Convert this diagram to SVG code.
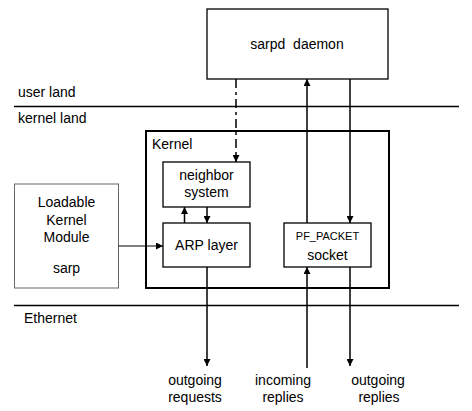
<svg xmlns="http://www.w3.org/2000/svg" width="472" height="411" viewBox="0 0 472 411">
<style>
text{font-family:"Liberation Sans",Arial,sans-serif;font-size:14px;fill:#000}
.c{text-anchor:middle}
.box{fill:#fff;stroke:#000;stroke-width:1.3}
.ln{stroke:#000;stroke-width:1.5;fill:none}
</style>
<defs>
<marker id="ah" viewBox="0 0 10 10" refX="10" refY="5" markerWidth="9" markerHeight="7" markerUnits="userSpaceOnUse" orient="auto">
<path d="M0,0 L10,5 L0,10 z" fill="#000"/>
</marker>
</defs>
<rect width="472" height="411" fill="#fff"/>
<g id="layers">
<line x1="14" y1="106.5" x2="459" y2="106.5" stroke="#000" stroke-width="1.5"/>
<line x1="14" y1="305.5" x2="459" y2="305.5" stroke="#000" stroke-width="1.5"/>
<text x="18" y="97">user land</text>
<text x="18" y="123">kernel land</text>
<text x="24" y="323">Ethernet</text>
</g>
<g id="kernel">
<rect x="146" y="131" width="243" height="157" fill="none" stroke="#000" stroke-width="2"/>
<text x="152" y="149">Kernel</text>
</g>
<g id="sarpd">
<rect class="box" x="207" y="9" width="181" height="70"/>
<text class="c" x="297" y="49" xml:space="preserve">sarpd  daemon</text>
</g>
<g id="neighbor">
<rect class="box" x="163" y="162" width="87" height="45"/>
<text class="c" x="206.5" y="180">neighbor</text>
<text class="c" x="206.5" y="197">system</text>
</g>
<g id="arp">
<rect class="box" x="163" y="223" width="87" height="44"/>
<text class="c" x="206.5" y="250">ARP layer</text>
</g>
<g id="pfpacket">
<rect class="box" x="284" y="223" width="87" height="44"/>
<text class="c" x="327.5" y="240" style="font-size:11px">PF_PACKET</text>
<text class="c" x="327.5" y="260">socket</text>
</g>
<g id="lkm">
<rect x="14.5" y="184" width="104" height="104" fill="#fff" stroke="#666" stroke-width="1"/>
<text class="c" x="66.5" y="207">Loadable</text>
<text class="c" x="66.5" y="224.5">Kernel</text>
<text class="c" x="66.5" y="242">Module</text>
<text class="c" x="66.5" y="273">sarp</text>
</g>
<g id="connectors">
<line class="ln" x1="236" y1="79" x2="236" y2="162" stroke-dasharray="9 4 3 4" marker-end="url(#ah)"/>
<line class="ln" x1="307" y1="223" x2="307" y2="79" marker-end="url(#ah)"/>
<line class="ln" x1="350" y1="79" x2="350" y2="223" marker-end="url(#ah)"/>
<line class="ln" x1="184.5" y1="223" x2="184.5" y2="207" marker-end="url(#ah)"/>
<line class="ln" x1="207" y1="207" x2="207" y2="223" marker-end="url(#ah)"/>
<line x1="118.5" y1="246" x2="163" y2="246" stroke="#000" stroke-width="1" marker-end="url(#ah)"/>
<line class="ln" x1="207" y1="267" x2="207" y2="366" marker-end="url(#ah)"/>
<line class="ln" x1="307" y1="368" x2="307" y2="267" marker-end="url(#ah)"/>
<line class="ln" x1="350" y1="267" x2="350" y2="366" marker-end="url(#ah)"/>
</g>
<g id="labels">
<text class="c" x="195" y="385">outgoing</text>
<text class="c" x="195" y="401.5">requests</text>
<text class="c" x="283" y="385">incoming</text>
<text class="c" x="283" y="401.5">replies</text>
<text class="c" x="378" y="385">outgoing</text>
<text class="c" x="379" y="401.5">replies</text>
</g>
</svg>
